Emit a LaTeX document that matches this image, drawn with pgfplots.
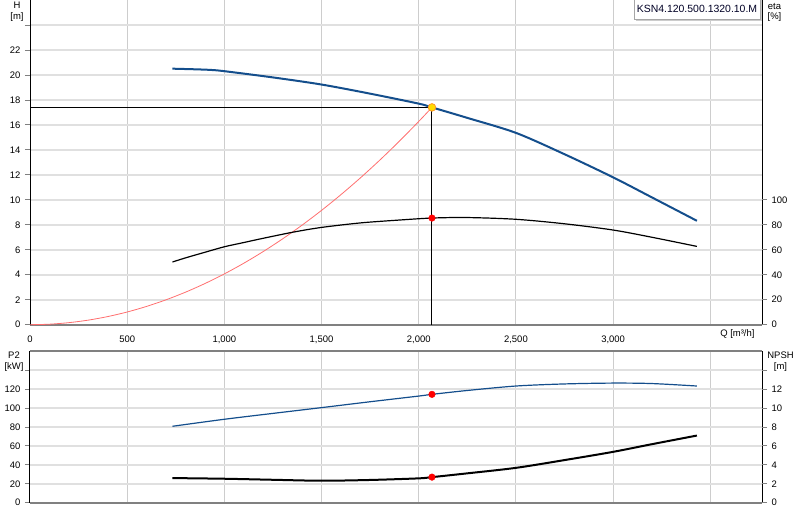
\documentclass[border=0pt]{standalone}
\usepackage{fontspec}
\setmainfont{Liberation Sans}
\usepackage{pgfplots}
\pgfplotsset{compat=1.18}

\definecolor{curveblue}{RGB}{20,78,140}
\definecolor{gridh}{RGB}{224,224,224}
\definecolor{gridv}{RGB}{205,205,205}
\definecolor{axisgray}{RGB}{128,128,128}
\definecolor{sysred}{RGB}{255,110,110}
\definecolor{opyellow}{RGB}{255,220,0}
\definecolor{oporange}{RGB}{255,150,40}

\newcommand{\lblfont}{\fontsize{9.5}{11}\selectfont}

\pgfplotsset{
  pump/.style={
    at={(30bp,195.3bp)}, anchor=south west,
    scale only axis, width=732bp, height=324.7bp,
    xmin=0, xmax=3766,
    axis line style={draw=none},
    tick align=outside,
    major tick length=5bp,
    tick style={axisgray, line width=0.8bp},
    xtick style={draw=none},
    tick label style={font=\lblfont},
    /pgf/number format/assume math mode=true,
    clip=false,
  },
  lower/.style={pump, at={(30bp,17.3bp)}, height=152bp},
}

\begin{document}
\begin{tikzpicture}[font=\lblfont]
\useasboundingbox (0,0) rectangle (800bp,520bp);

% ---------- oben: H und eta ----------
\begin{axis}[pump,
  ymin=0, ymax=26,
  ytick pos=left,
  ytick={0,2,...,24},
  yticklabels={0,2,4,6,8,10,12,14,16,18,20,22,{}},
  xtick={0,500,...,3500},
  xticklabels={0,500,{1,000},{1,500},{2,000},{2,500},{3,000},{}},
  xticklabel style={anchor=base, yshift=-13bp},
  yticklabel style={anchor=east, xshift=-1bp},
  grid=major,
  major x grid style={gridv, line width=1bp},
  major y grid style={gridh, line width=2bp},
]
\draw[axisgray, line width=2bp] (rel axis cs:0,0) -- (rel axis cs:1,0);
\draw[black, line width=1bp] (rel axis cs:0,0) -- (rel axis cs:0,1);
\draw[black, line width=1bp] (rel axis cs:1,0) -- (rel axis cs:1,1);

% Anlagenkennlinie
\addplot[sysred, line width=0.8bp, smooth] coordinates {
(0,0) (100,0.041) (200,0.163) (300,0.366) (400,0.651) (500,1.017)
(600,1.465) (700,1.994) (800,2.604) (900,3.296) (1000,4.069)
(1100,4.923) (1200,5.859) (1300,6.877) (1400,7.975) (1500,9.155)
(1600,10.417) (1700,11.759) (1800,13.184) (1900,14.689) (2000,16.276)
(2068,17.40)
};

% Betriebspunkt-Linien
\addplot[black, line width=1bp] coordinates {(0,17.4) (2068,17.4) (2068,0)};

% Foerderhoehe H
\addplot[curveblue, line width=2bp, smooth] coordinates {
(733,20.5) (850,20.45) (930,20.4) (1000,20.3) (1250,19.8) (1500,19.23)
(1750,18.5) (2000,17.7) (2068,17.4) (2250,16.56) (2500,15.36)
(2750,13.65) (3000,11.8) (3200,10.19) (3431,8.32)
};

\addplot[only marks, mark=*, mark size=3.8bp,
  mark options={fill=opyellow, draw=oporange, line width=0.8bp}]
  coordinates {(2068,17.4)};
\end{axis}

\begin{axis}[pump,
  ymin=0, ymax=260,
  axis x line=none,
  axis y line*=right,
  axis line style={draw=none},
  ytick pos=right,
  ytick={0,20,...,100},
  yticklabel style={anchor=west, xshift=1bp},
]
% Wirkungsgrad eta
\addplot[black, line width=1.2bp, smooth] coordinates {
(733,50.2) (800,53.5) (900,58) (1000,62.4) (1100,65.8) (1200,69.2)
(1357,74.2) (1500,77.9) (1700,81.5) (1900,83.8) (2068,85.4) (2250,85.8)
(2500,84.4) (2750,80.8) (3000,75.8) (3200,70.0) (3431,62.7)
};
\addplot[only marks, mark=*, mark size=3.3bp, red] coordinates {(2068,85.4)};
\end{axis}

% ---------- unten: P2 und NPSH ----------
\begin{axis}[lower,
  ymin=0, ymax=160.5,
  ytick pos=left,
  ytick={0,20,...,140},
  yticklabels={0,20,40,60,80,100,120,{}},
  xtick={0,500,...,3500},
  xticklabels={},
  yticklabel style={anchor=east, xshift=-1bp},
  grid=major,
  major x grid style={gridv, line width=1bp},
  major y grid style={gridh, line width=2bp},
]
\draw[axisgray, line width=2bp] (rel axis cs:0,0) -- (rel axis cs:1,0);
\draw[axisgray, line width=2bp] (rel axis cs:0,1) -- (rel axis cs:1,1);
\draw[black, line width=1bp] (rel axis cs:0,0) -- (rel axis cs:0,1);
\draw[black, line width=1bp] (rel axis cs:1,0) -- (rel axis cs:1,1);

% Leistung P2
\addplot[curveblue, line width=1.2bp, smooth] coordinates {
(733,80.7) (1000,88.1) (1250,94.3) (1500,100.4) (1750,106.6) (2000,112.6)
(2068,114.4) (2250,118.5) (2500,123.2) (2750,125.4) (3000,126.3)
(3200,125.8) (3431,123.2)
};
\addplot[only marks, mark=*, mark size=3.3bp, red] coordinates {(2068,114.4)};
\end{axis}

\begin{axis}[lower,
  ymin=0, ymax=16.05,
  axis x line=none,
  axis y line*=right,
  axis line style={draw=none},
  ytick pos=right,
  ytick={0,2,...,14},
  yticklabels={0,2,4,6,8,10,12,{}},
  yticklabel style={anchor=west, xshift=1bp},
]
% NPSH
\addplot[black, line width=2bp, smooth] coordinates {
(733,2.6) (1000,2.53) (1250,2.42) (1500,2.32) (1750,2.4) (2000,2.57)
(2068,2.7) (2250,3.1) (2500,3.68) (2750,4.5) (3000,5.37) (3200,6.18)
(3431,7.09)
};
\addplot[only marks, mark=*, mark size=3.3bp, red] coordinates {(2068,2.7)};
\end{axis}

% Achsenbeschriftungen
\node at (17bp,515bp) {H};
\node at (17bp,502.5bp) {[m]};
\node at (774.5bp,514bp) {eta};
\node at (774.5bp,502.5bp) {[\%]};
\node[anchor=east] at (758bp,185.7bp) {Q [m³/h]};
\node at (14bp,164.7bp) {P2};
\node at (14bp,152.7bp) {[kW]};
\node at (780.5bp,164.7bp) {NPSH};
\node at (780.5bp,152.7bp) {[m]};

% Typenbezeichnung
\fill[gray!40] (636bp,499bp) rectangle (762bp,522bp);
\draw[gray!70, fill=white] (634bp,501bp) rectangle (760bp,522bp);
\node[text=black!85!blue, font=\fontsize{10.5}{12}\selectfont] at (697bp,511.5bp) {KSN4.120.500.1320.10.M};
\end{tikzpicture}
\end{document}
